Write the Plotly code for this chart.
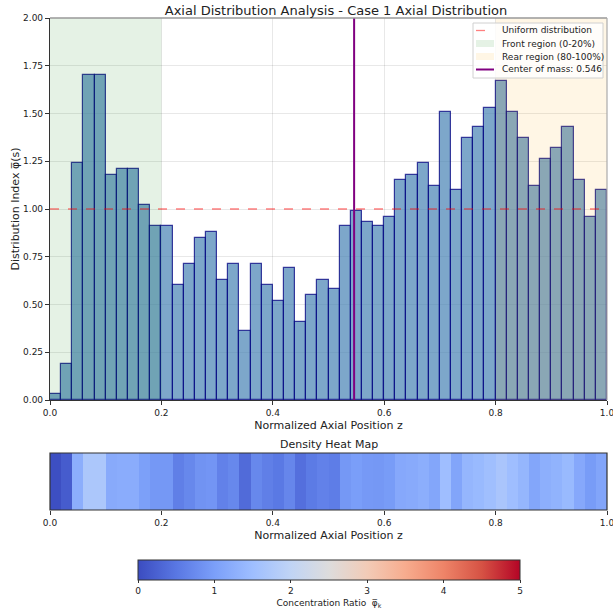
import numpy as np
import plotly.graph_objects as go

# Axial distribution index per bin (50 equal bins on [0, 1])
bin_edges = np.linspace(0.0, 1.0, 51)
distribution_index = [
    0.03, 0.19, 1.24, 1.70, 1.70, 1.18, 1.21, 1.21, 1.02, 0.91,
    0.91, 0.60, 0.71, 0.85, 0.88, 0.63, 0.71, 0.36, 0.71, 0.60,
    0.52, 0.69, 0.41, 0.55, 0.63, 0.58, 0.91, 0.99, 0.93, 0.91,
    0.96, 1.15, 1.18, 1.24, 1.12, 1.51, 1.10, 1.37, 1.43, 1.53,
    1.67, 1.51, 1.37, 1.12, 1.26, 1.32, 1.43, 1.15, 0.96, 1.10,
]
center_of_mass = 0.546
uniform_level = 1.0
front_region = (0.0, 0.2)
rear_region = (0.8, 1.0)
x_ticks = [0.0, 0.2, 0.4, 0.6, 0.8, 1.0]
y_ticks = [0.0, 0.25, 0.5, 0.75, 1.0, 1.25, 1.5, 1.75, 2.0]
cbar_ticks = [0, 1, 2, 3, 4, 5]
legend_labels = [
    "Uniform distribution",
    "Front region (0-20%)",
    "Rear region (80-100%)",
    f"Center of mass: {center_of_mass:.3f}",
]

centers = (bin_edges[:-1] + bin_edges[1:]) / 2
widths = np.diff(bin_edges)

coolwarm = [
    [0.0, "#3b4cc0"], [0.1, "#5977e3"], [0.2, "#7b9ff9"], [0.3, "#9ebeff"],
    [0.4, "#c0d4f5"], [0.5, "#dddcdc"], [0.6, "#f2cbb7"], [0.7, "#f7ac8e"],
    [0.8, "#ee8468"], [0.9, "#d65244"], [1.0, "#b40426"],
]

FONT = "DejaVu Sans"
W, H = 613, 616
ML, MR, MT, MB = 50, 6, 18, 106
pw = W - ML - MR
ph = H - MT - MB


def px_(x):
    """Pixel column -> paper x."""
    return (x - ML) / pw


def py(y):
    """Pixel row -> paper y."""
    return (H - MB - y) / ph


UNIFORM_STYLE = dict(color="rgba(255,0,0,0.5)", dash="dash", width=1.3)
COM_STYLE = dict(color="purple", width=2)
FRONT_FILL = "rgba(0,128,0,0.1)"
REAR_FILL = "rgba(255,165,0,0.1)"

fig = go.Figure()

# Histogram bars
fig.add_trace(go.Bar(
    x=centers, y=distribution_index, width=widths,
    marker=dict(color="rgba(70,130,180,0.7)",
                line=dict(color="rgba(0,0,128,0.75)", width=1.2)),
    showlegend=False, xaxis="x", yaxis="y", hoverinfo="skip",
))

# Density heat map strip
fig.add_trace(go.Heatmap(
    x=centers, y=[0], z=[distribution_index],
    colorscale=coolwarm, zmin=0, zmax=5,
    xaxis="x2", yaxis="y2", hoverinfo="skip", showlegend=False,
    colorbar=dict(
        orientation="h",
        x=px_(329), xanchor="center",
        y=py(550), yanchor="top", yref="paper",
        lenmode="pixels", len=402, thickness=20,
        outlinecolor="#333", outlinewidth=1,
        tickvals=cbar_ticks, ticks="outside", ticklen=3, tickcolor="#333",
        tickfont=dict(family=FONT, size=9, color="#222"),
        title=dict(text="Concentration Ratio  φ\u0305<sub>k</sub>", side="bottom",
                   font=dict(family=FONT, size=9, color="#222")),
    ),
))

# Shaded regions drawn over the bars, reference lines, frames
shapes = [
    dict(type="rect", xref="x", yref="y", x0=front_region[0], x1=front_region[1],
         y0=0, y1=2, fillcolor=FRONT_FILL, line_width=0, layer="above"),
    dict(type="rect", xref="x", yref="y", x0=rear_region[0], x1=rear_region[1],
         y0=0, y1=2, fillcolor=REAR_FILL, line_width=0, layer="above"),
    dict(type="line", xref="x", yref="y", x0=0, x1=1, y0=uniform_level, y1=uniform_level,
         line=UNIFORM_STYLE, layer="above"),
    dict(type="line", xref="x", yref="y", x0=center_of_mass, x1=center_of_mass, y0=0, y1=2,
         line=COM_STYLE, layer="above"),
    dict(type="line", xref="paper", yref="paper", x0=0, x1=1, y0=1, y1=1,
         line=dict(color="#999", width=1.5), layer="above"),
    dict(type="line", xref="paper", yref="paper", x0=1, x1=1, y0=py(400), y1=1,
         line=dict(color="#aaa", width=1.2), layer="above"),
    dict(type="rect", xref="paper", yref="paper", x0=0, x1=1, y0=0, y1=py(453),
         line=dict(color="#333", width=1.2), layer="above"),
]

# Legend box with its handles
box_l, box_r, box_t, box_b = 473, 603, 23, 78
row_y = [30.5, 43.5, 56.5, 69.5]
h_l, h_r = 476, 494
shapes.append(dict(type="rect", xref="paper", yref="paper",
                   x0=px_(box_l), x1=px_(box_r), y0=py(box_b), y1=py(box_t),
                   fillcolor="rgba(255,255,255,0.8)",
                   line=dict(color="#d0d0d0", width=1), layer="above"))
shapes.append(dict(type="line", xref="paper", yref="paper",
                   x0=px_(h_l), x1=px_(h_r), y0=py(row_y[0]), y1=py(row_y[0]),
                   line=UNIFORM_STYLE, layer="above"))
for ry, fc in [(row_y[1], FRONT_FILL), (row_y[2], REAR_FILL)]:
    shapes.append(dict(type="rect", xref="paper", yref="paper",
                       x0=px_(h_l), x1=px_(h_r), y0=py(ry + 3.5), y1=py(ry - 3.5),
                       fillcolor=fc, line_width=0, layer="above"))
shapes.append(dict(type="line", xref="paper", yref="paper",
                   x0=px_(h_l), x1=px_(h_r), y0=py(row_y[3]), y1=py(row_y[3]),
                   line=COM_STYLE, layer="above"))

annotations = [dict(text="Density Heat Map", xref="paper", yref="paper",
                    x=0.5, y=py(444), xanchor="center", yanchor="middle",
                    showarrow=False, font=dict(family=FONT, size=11, color="#222"))]
for ry, lab in zip(row_y, legend_labels):
    annotations.append(dict(text=lab, xref="paper", yref="paper",
                            x=px_(500), y=py(ry), xanchor="left", yanchor="middle",
                            showarrow=False, font=dict(family=FONT, size=9, color="#222")))

axis_font = dict(family=FONT, size=11, color="#222")
tick_font = dict(family=FONT, size=9, color="#222")

fig.update_layout(
    width=W, height=H,
    margin=dict(l=ML, r=MR, t=MT, b=MB, autoexpand=False),
    paper_bgcolor="white", plot_bgcolor="white",
    bargap=0, showlegend=False,
    font=dict(family=FONT, color="#222"),
    title=dict(text="Axial Distribution Analysis - Case 1 Axial Distribution",
               x=336 / W, xanchor="center", y=1 - 10 / H, yanchor="middle",
               font=dict(family=FONT, size=13, color="#222")),
    xaxis=dict(domain=[0, 1], range=[0, 1], anchor="y",
               tickvals=x_ticks, tickformat=".1f", ticks="outside", ticklen=4,
               tickcolor="#333", showline=True, linecolor="#333", linewidth=1.2,
               showgrid=True, gridcolor="rgba(0,0,0,0.09)", zeroline=False,
               tickfont=tick_font, ticklabeloverflow="allow",
               title=dict(text="Normalized Axial Position z", font=axis_font, standoff=4)),
    yaxis=dict(domain=[py(400), 1], range=[0, 2], anchor="x",
               tickvals=y_ticks, tickformat=".2f", ticks="outside", ticklen=4,
               tickcolor="#333", showline=True, linecolor="#333", linewidth=1.2,
               showgrid=True, gridcolor="rgba(0,0,0,0.09)", zeroline=False,
               tickfont=tick_font, ticklabeloverflow="allow",
               title=dict(text="Distribution Index φ\u0305(s)", font=axis_font, standoff=1)),
    xaxis2=dict(domain=[0, 1], range=[0, 1], anchor="y2",
                tickvals=x_ticks, tickformat=".1f", ticks="outside", ticklen=4,
                tickcolor="#333", showline=False, showgrid=False, zeroline=False,
                tickfont=tick_font, ticklabeloverflow="allow",
                title=dict(text="Normalized Axial Position z", font=axis_font, standoff=4)),
    yaxis2=dict(domain=[0, py(453)], range=[-0.5, 0.5], anchor="x2",
                visible=False, showgrid=False, zeroline=False),
    shapes=shapes,
    annotations=annotations,
)

fig.write_html("out.html")
